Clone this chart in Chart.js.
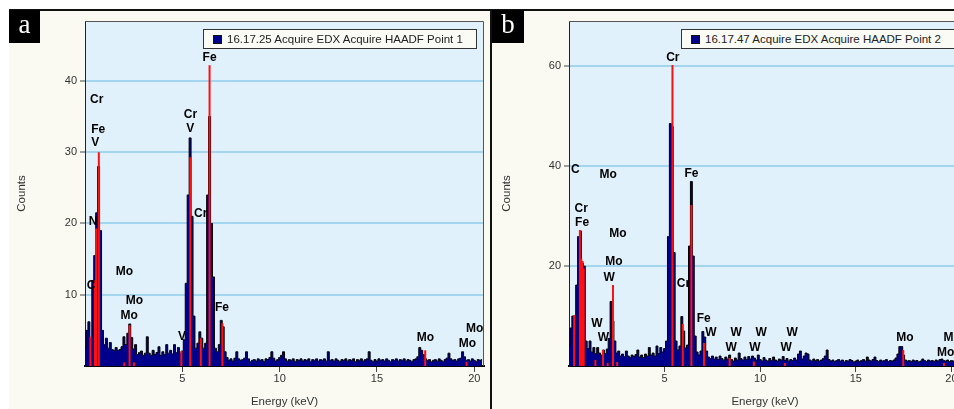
<!DOCTYPE html>
<html>
<head>
<meta charset="utf-8">
<script src="https://cdn.jsdelivr.net/npm/chart.js@4.4.0/dist/chart.umd.min.js"></script>
<style>
  html, body { margin: 0; padding: 0; background: #fff; width: 954px; height: 409px; overflow: hidden; position: relative; }
  .abs { position: absolute; }
  #bg { left: 9px; top: 11px; width: 960px; height: 398px; background: #fafaf2; }
  #topline { left: 9px; top: 9px; width: 960px; height: 2px; background: #111; }
  #divider { left: 490px; top: 9px; width: 2px; height: 400px; background: #111; }
  .tag { background: #000; color: #fff; font-family: "Liberation Serif", "DejaVu Serif", serif; font-size: 27px; line-height: 29px; text-align: center; }
  .legend { border: 1px solid #333; background: #fbfbf5; height: 18px; font-family: "Liberation Sans", Arial, sans-serif; font-size: 11.5px; color: #222; line-height: 18px; white-space: nowrap; box-sizing: content-box; }
  .legend i { position: absolute; top: 5px; width: 7px; height: 7px; background: #00008b; border: 1px solid #111; }
  .legend span { position: absolute; top: 0; }
  canvas { position: absolute; }
</style>
</head>
<body>
<div id="bg" class="abs"></div>
<div id="topline" class="abs"></div>
<canvas id="chartA" width="481" height="398" style="left:9px;top:11px"></canvas>
<canvas id="chartB" width="480" height="398" style="left:492px;top:11px"></canvas>
<div id="divider" class="abs"></div>
<div class="abs tag" style="left:9px;top:10px;width:31px;height:33px">a</div>
<div class="abs tag" style="left:492px;top:10px;width:32px;height:33px">b</div>
<div class="abs legend" style="left:203px;top:29px;width:272px"><i style="left:9px"></i><span style="left:23px" id="legA"></span></div>
<div class="abs legend" style="left:681px;top:29px;width:272px"><i style="left:9px"></i><span style="left:23px" id="legB"></span></div>
<script>
const binWidth = 0.1; // keV per channel

const seriesA = '16.17.25 Acquire EDX Acquire HAADF Point 1';
const countsA = [
  2.5, 5, 6.2, 4, 12, 15.5, 21.5, 28, 19, 5,
  3, 3.9, 2.5, 3.3, 2.3, 2.2, 2.6, 2.2, 2.3, 2.7,
  4.1, 3.0, 4.6, 5.9, 4.0, 2.4, 3.0, 1.6, 1.9, 2.1,
  1.5, 1.8, 4.1, 1.8, 1.5, 2.2, 1.6, 1.9, 2.7, 1.5,
  2.0, 1.6, 3.0, 1.8, 2.2, 1.7, 3.0, 1.9, 2.6, 1.8,
  2.1, 3.7, 11.6, 24, 32, 21, 7, 2.5, 3.2, 4.8,
  3.9, 2.5, 3.2, 24, 35, 20, 12.5, 2.5, 2.0, 3.0,
  6.4, 5.5, 2.0, 1.2, 0.8, 1.0, 0.7, 1.1, 2.0, 1.0,
  0.8, 0.9, 1.1, 2.0, 1.0, 0.6, 0.8, 0.9, 0.7, 1.0,
  0.8, 0.9, 0.6, 1.0, 0.9, 1.2, 2.0, 1.1, 0.7, 0.9,
  1.2, 1.5, 2.0, 1.0, 0.7, 0.9, 0.8, 1.0, 0.6, 0.9,
  0.8, 1.0, 0.7, 0.9, 0.8, 1.0, 0.6, 0.9, 0.8, 1.0,
  0.7, 0.9, 0.8, 1.0, 0.7, 2.0, 0.8, 0.9, 0.7, 1.0,
  0.8, 0.6, 0.9, 0.8, 1.0, 0.7, 0.9, 0.8, 1.0, 0.6,
  0.9, 0.8, 1.0, 0.7, 0.9, 1.0, 2.0, 0.8, 0.6, 0.9,
  0.7, 1.0, 0.8, 0.9, 0.7, 1.0, 0.8, 0.6, 0.9, 0.8,
  1.0, 0.7, 0.9, 0.8, 1.0, 0.7, 0.9, 0.8, 0.6, 0.9,
  1.0, 1.3, 2.6, 2.2, 1.6, 1.0, 0.8, 0.9, 0.6, 0.8,
  0.9, 0.7, 1.0, 0.8, 0.6, 0.9, 1.1, 1.8, 1.0, 0.8,
  0.9, 0.7, 1.0, 1.1, 2.0, 1.3, 0.8, 0.9, 0.7, 1.0,
  0.8, 0.6, 0.9, 0.8, 0.9
];
const markEnergyA = [0.28, 0.51, 0.57, 0.71, 2.02, 2.29, 2.52, 4.95, 5.41, 5.95, 6.40, 7.06, 17.48, 19.61];
const markHeightA = [4.1, 12, 19.3, 30, 0.5, 5.7, 0.5, 2.1, 29.3, 3.9, 42.2, 6.0, 2.2, 0.6];
const elemTextA = ['Cr', 'Fe', 'V', 'N', 'C', 'Mo', 'Mo', 'Mo', 'Cr', 'V', 'Cr', 'Fe', 'V', 'Fe', 'Mo', 'Mo', 'Mo'];
const elemEnergyA = [0.26, 0.32, 0.32, 0.19, 0.09, 1.58, 2.09, 1.83, 5.08, 5.2, 5.6, 6.04, 4.78, 6.68, 17.04, 19.2, 19.57];
const elemCountA = [37.4, 33.2, 31.3, 20.2, 11.2, 13.3, 9.1, 7.1, 35.3, 33.3, 21.3, 43.3, 4.1, 8.2, 4.0, 3.1, 5.2];

const seriesB = '16.17.47 Acquire EDX Acquire HAADF Point 2';
const countsB = [
  4, 7.6, 10, 6, 16.2, 25.9, 27, 20.6, 20, 5,
  3.5, 5, 2.8, 3.7, 2.5, 3.7, 2.6, 2.2, 3.2, 2.5,
  3.4, 5.5, 12.9, 9, 5, 2.6, 3.0, 2.0, 2.4, 1.9,
  3.0, 2.0, 1.7, 2.2, 1.9, 2.3, 3.2, 1.8, 2.2, 1.7,
  2.4, 2.0, 3.7, 2.2, 2.6, 2.0, 4.0, 2.5, 3.7, 2.8,
  3.5, 5.0, 25.9, 48.5, 47.9, 22.7, 5.0, 3.2, 4.0, 9.9,
  7.0, 3.6, 4.2, 24, 36.9, 22, 6, 2.8, 2.2, 3.0,
  6.9, 5.8, 3.0, 1.8, 1.5, 2.0, 1.4, 1.8, 1.3, 2.0,
  1.5, 1.2, 1.8, 1.4, 2.2, 1.3, 1.0, 1.6, 1.2, 2.6,
  1.5, 1.2, 1.8, 1.3, 1.9, 1.4, 2.0, 1.6, 1.2, 2.2,
  1.3, 1.0, 1.7, 1.2, 1.0, 1.5, 1.1, 1.8, 1.2, 1.0,
  1.4, 1.2, 1.9, 1.1, 1.5, 1.0, 1.3, 1.1, 1.6, 1.2,
  2.4, 3.0, 1.4, 2.0, 2.6, 2.4, 1.2, 1.0, 1.4, 1.1,
  1.3, 1.0, 1.2, 1.5, 2.0, 3.2, 1.3, 1.0, 1.2, 0.9,
  1.1, 1.3, 1.0, 1.2, 0.8, 1.1, 1.0, 1.3, 1.1, 0.8,
  1.0, 1.2, 0.9, 1.1, 1.3, 1.0, 1.8, 1.2, 1.0, 1.3,
  1.8, 1.1, 0.9, 1.2, 1.0, 1.1, 1.3, 0.9, 1.1, 1.0,
  1.2, 1.6, 2.4, 3.9, 3.9, 2.2, 1.2, 1.0, 1.1, 0.9,
  1.2, 1.0, 1.1, 0.8, 1.0, 1.4, 1.1, 0.9, 1.2, 1.0,
  1.1, 0.9, 1.2, 1.0, 1.3, 1.4, 1.1, 1.0, 1.2, 0.9,
  1.1, 1.0, 0.9, 1.1, 1.0
];
const markEnergyB = [0.27, 0.57, 0.64, 0.71, 0.77, 1.38, 1.78, 2.02, 2.30, 2.52, 5.41, 5.95, 6.40, 7.06, 8.40, 9.67, 11.29, 17.48, 19.61];
const markHeightB = [10.2, 27.2, 21.5, 21.0, 19.5, 1.2, 3.2, 0.6, 16.2, 0.8, 60.2, 8.4, 32.2, 4.6, 1.6, 0.9, 0.6, 3.2, 0.6];
const elemTextB = ['C', 'Mo', 'Cr', 'Fe', 'Mo', 'Mo', 'W', 'W', 'W', 'Cr', 'Fe', 'Cr', 'Fe', 'W', 'W', 'W', 'W', 'W', 'W', 'W', 'Mo', 'Mo', 'Mo'];
const elemEnergyB = [0.11, 1.59, 0.29, 0.32, 2.1, 1.89, 1.8, 1.16, 1.5, 5.08, 6.04, 5.64, 6.68, 7.12, 8.44, 8.18, 9.75, 9.43, 11.37, 11.06, 17.12, 19.58, 19.25];
const elemCountB = [39.3, 38.2, 31.5, 28.7, 26.5, 20.9, 17.7, 8.5, 5.7, 61.7, 38.5, 16.4, 9.5, 6.7, 6.6, 3.7, 6.6, 3.6, 6.6, 3.6, 5.6, 5.6, 2.7];

const FONT = '"Liberation Sans", Arial, sans-serif';

// plot background, frame and element labels
const spectrumDeco = {
  id: 'spectrumDeco',
  beforeDraw(chart) {
    const { ctx, chartArea: a } = chart;
    ctx.save();
    ctx.fillStyle = '#e1f1fb';
    ctx.fillRect(a.left, a.top, a.right - a.left, a.bottom - a.top);
    ctx.restore();
  },
  afterDatasetsDraw(chart, args, opts) {
    const { ctx, chartArea: a, scales } = chart;
    ctx.save();
    ctx.strokeStyle = '#555';
    ctx.lineWidth = 1;
    ctx.beginPath();
    ctx.moveTo(a.left, a.top + 0.5);
    ctx.lineTo(a.right - 0.5, a.top + 0.5);
    ctx.lineTo(a.right - 0.5, a.bottom);
    ctx.stroke();
    ctx.fillStyle = '#000';
    ctx.font = 'bold 12px ' + FONT;
    ctx.textAlign = 'left';
    ctx.textBaseline = 'middle';
    opts.text.forEach((t, i) => {
      ctx.fillText(t, scales.x.getPixelForValue(opts.energy[i]), scales.y.getPixelForValue(opts.count[i]));
    });
    ctx.restore();
  }
};

function makeSpectrum(id, counts, markE, markH, text, energy, count, yMax, yStep, axisW, padRight, titlePad) {
  const hist = counts.map((c, i) => ({ x: i * binWidth, y: c }));
  const marks = [];
  markE.forEach((e, i) => {
    marks.push({ x: e, y: 0 }, { x: e, y: markH[i] }, { x: e, y: null });
  });
  const dropZero = s => { s.ticks = s.ticks.filter(t => t.value > 0); };
  return new Chart(document.getElementById(id), {
    type: 'line',
    data: {
      datasets: [{
        data: marks,
        borderColor: '#ff1010',
        borderWidth: 2,
        pointRadius: 0,
        spanGaps: false,
        order: 0
      }, {
        data: hist,
        stepped: 'middle',
        fill: 'origin',
        backgroundColor: '#00008b',
        borderColor: '#000',
        borderWidth: 1,
        pointRadius: 0,
        order: 1
      }]
    },
    options: {
      responsive: false,
      animation: false,
      layout: { padding: { top: 10, right: padRight, left: 0, bottom: 0 } },
      plugins: {
        legend: { display: false },
        tooltip: { enabled: false },
        spectrumDeco: { text: text, energy: energy, count: count }
      },
      scales: {
        x: {
          type: 'linear',
          min: 0,
          max: 20.5,
          afterFit: s => { s.height = 43; },
          afterBuildTicks: dropZero,
          ticks: { stepSize: 5, includeBounds: false, padding: 0, color: '#333', font: { family: FONT, size: 11 } },
          grid: { drawOnChartArea: false, tickLength: 6, tickColor: '#444', tickWidth: 1 },
          border: { color: '#000', width: 2 },
          title: { display: true, text: 'Energy (keV)', color: '#333', font: { family: FONT, size: 11.5 }, padding: 0 }
        },
        y: {
          type: 'linear',
          min: 0,
          max: yMax,
          afterFit: s => { s.width = axisW; },
          afterBuildTicks: dropZero,
          ticks: { stepSize: yStep, includeBounds: false, padding: 3, color: '#333', font: { family: FONT, size: 11 } },
          grid: { color: '#a3d6ee', lineWidth: 2, tickLength: 5, tickColor: '#444', tickWidth: 1 },
          border: { color: '#222', width: 1 },
          title: { display: true, text: 'Counts', color: '#333', font: { family: FONT, size: 11.5 }, padding: { top: titlePad, bottom: 0 } }
        }
      }
    },
    plugins: [spectrumDeco]
  });
}

document.getElementById('legA').textContent = seriesA;
document.getElementById('legB').textContent = seriesB;

makeSpectrum('chartA', countsA, markEnergyA, markHeightA, elemTextA, elemEnergyA, elemCountA, 48.4, 10, 76, 6, 6);
makeSpectrum('chartB', countsB, markEnergyB, markHeightB, elemTextB, elemEnergyB, elemCountB, 69, 20, 77, 11, 8);
</script>
</body>
</html>
